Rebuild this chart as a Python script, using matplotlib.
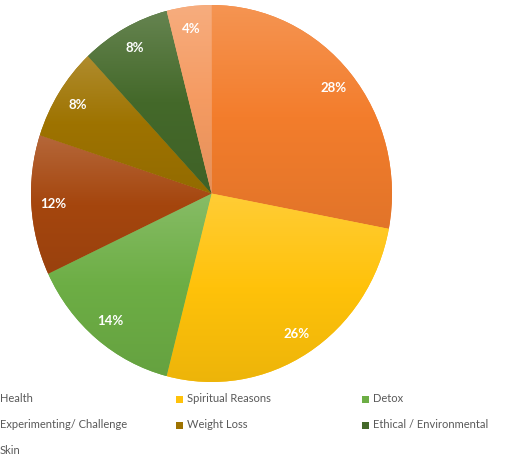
import numpy as np
import matplotlib.pyplot as plt
from matplotlib.colors import LinearSegmentedColormap, to_rgb
from matplotlib.patches import Rectangle

labels = ['Health', 'Spiritual Reasons', 'Detox', 'Experimenting/ Challenge',
          'Weight Loss', 'Ethical / Environmental', 'Skin']
values = [28, 26, 14, 12, 8, 8, 4]
colors = ['#F37D2C', '#FFC20A', '#6DAE45', '#A5460E', '#9E7300', '#44692A', '#F59B62']

W, H = 517, 462
fig = plt.figure(figsize=(W / 100, H / 100), dpi=100)
ax = fig.add_axes([31 / W, 80 / H, 361 / W, 377 / H])

wedges, texts, autotexts = ax.pie(
    values, colors=colors, startangle=90, counterclock=False,
    autopct=lambda p: f'{p:.0f}%', pctdistance=0.88,
    wedgeprops=dict(linewidth=0))

ax.set_aspect('auto')


def mix(c, other, t):
    c = np.array(to_rgb(c))
    return tuple(c * (1 - t) + np.array(other) * t)


# office style gradient: lighter at the top of each slice, darker at the bottom
for w, c in zip(wedges, colors):
    ext = w.get_path().get_extents()
    cmap = LinearSegmentedColormap.from_list(
        'g', [mix(c, (0, 0, 0), 0.07), c, mix(c, (1, 1, 1), 0.18)])
    grad = np.linspace(1, 0, 256).reshape(-1, 1)
    im = ax.imshow(grad, cmap=cmap, extent=[ext.x0, ext.x1, ext.y0, ext.y1],
                   aspect='auto', zorder=w.get_zorder() + 0.1, vmin=0, vmax=1)
    im.set_clip_path(w)

for t in autotexts:
    t.set_color('white')
    t.set_fontsize(9.5)
    t.set_fontweight('bold')
    t.set_family('Lato')
    t.set_zorder(5)

ax.set_xlim(-1, 1)
ax.set_ylim(-1, 1)
ax.axis('off')

# legend, three columns, the first column's markers fall off the left edge
col_x = [-11, 176, 362]
row_y = [399, 425, 450]
for i, (lab, c) in enumerate(zip(labels, colors)):
    r, k = divmod(i, 3)
    x, y = col_x[k], row_y[r]
    fig.patches.append(Rectangle(((x) / W, 1 - (y + 3.5) / H), 7 / W, 7 / H,
                                 transform=fig.transFigure, facecolor=c,
                                 edgecolor='none'))
    fig.text((x + 11) / W, 1 - y / H, lab, fontsize=8, color='#595959',
             family='Lato', va='center', ha='left')

fig.savefig('out.png', dpi=100)
